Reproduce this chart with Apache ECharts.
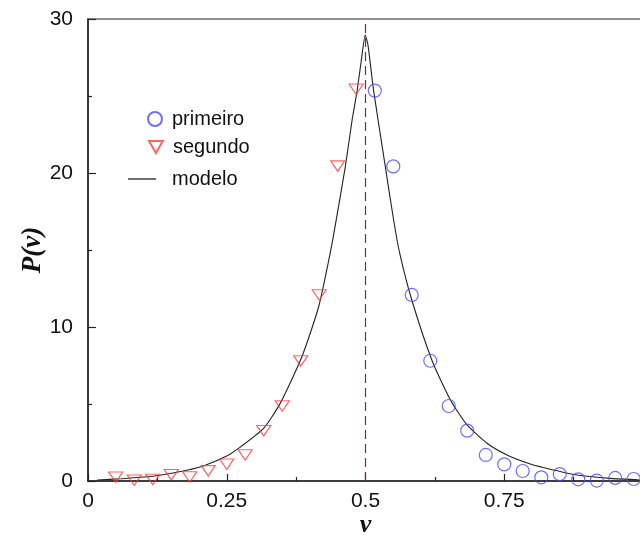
<!DOCTYPE html>
<html>
<head>
<meta charset="utf-8">
<script src="https://cdn.jsdelivr.net/npm/echarts@6/dist/echarts.min.js"></script>
<style>
  html, body { margin: 0; padding: 0; background: #fff; }
  #chart { width: 640px; height: 537px; }
</style>
</head>
<body>
<div id="chart"></div>
<script>
// ---- data ----
const primeiroV = [0.5167, 0.55, 0.5833, 0.6167, 0.65, 0.6833, 0.7167, 0.75, 0.7833, 0.8167, 0.85, 0.8833, 0.9167, 0.95, 0.9833];
const primeiroP = [25.35, 20.43, 12.08, 7.81, 4.87, 3.27, 1.69, 1.08, 0.65, 0.24, 0.45, 0.11, 0.03, 0.2, 0.13];

const segundoV = [0.05, 0.0833, 0.1167, 0.15, 0.1833, 0.2167, 0.25, 0.2833, 0.3167, 0.35, 0.3833, 0.4167, 0.45, 0.4833];
const segundoP = [0.25, 0.05, 0.1, 0.41, 0.26, 0.66, 1.09, 1.69, 3.27, 4.87, 7.8, 12.08, 20.45, 25.44];

const modeloV = [0.0167, 0.06, 0.12, 0.18, 0.21, 0.25, 0.2742, 0.3163, 0.3463, 0.3854, 0.4155, 0.4353, 0.4455, 0.4636, 0.4757, 0.4847, 0.4924, 0.4996,
                 0.5045, 0.5146, 0.5357, 0.5507, 0.5616, 0.583, 0.62, 0.653, 0.683, 0.719, 0.755, 0.797, 0.82, 0.881, 0.9416, 1.0];
const modeloP = [0.06, 0.15, 0.32, 0.71, 1.0, 1.62, 2.2, 3.42, 5.04, 8.07, 11.3, 14.6, 16.6, 20.4, 23.4, 25.3, 27.3, 28.96,
                 28.3, 25.35, 20.41, 16.95, 14.79, 11.8, 7.81, 5.26, 3.64, 2.45, 1.69, 1.1, 0.88, 0.39, 0.17, 0.06];

const dividerV = 0.5;

const xTickValues = [0, 0.25, 0.5, 0.75];
const xTickLabels = ['0', '0.25', '0.5', '0.75'];
const yTickValues = [0, 10, 20, 30];
const yTickLabels = ['0', '10', '20', '30'];

const seriesNames = ['primeiro', 'segundo', 'modelo'];
const xName = 'v';
const yName = 'P(v)';

// ---- build ----
const zip = (a, b) => a.map((v, i) => [v, b[i]]);
const tickLabel = (vals, labs) => (v) => {
  const i = vals.findIndex(t => Math.abs(t - v) < 1e-9);
  return i >= 0 ? labs[i] : '';
};

const axisColor = '#222';
const sansFont = 'Liberation Sans, Arial, sans-serif';
const serifFont = 'Liberation Serif, Times New Roman, serif';
const triPath = 'path://M0,0L20,0L10,17.32Z';

const chart = echarts.init(document.getElementById('chart'), null, { renderer: 'canvas' });

const legendText = { fontFamily: sansFont, fontSize: 20, color: '#111' };

chart.setOption({
  animation: false,
  backgroundColor: '#fff',
  grid: { left: 88, right: -3, top: 19, bottom: 56, show: true, borderColor: axisColor, borderWidth: 1.2,
          containLabel: false, outerBoundsMode: 'none' },
  legend: [
    { data: [seriesNames[0]], left: 147, top: 109, padding: 0, itemWidth: 24, itemHeight: 14, textStyle: legendText, selectedMode: false },
    { data: [seriesNames[1]], left: 148, top: 137, padding: 0, itemWidth: 24, itemHeight: 12, textStyle: legendText, selectedMode: false },
    { data: [{ name: seriesNames[2], icon: 'rect' }], left: 128, top: 169, padding: 0, itemWidth: 28, itemHeight: 1.3,
      itemStyle: { color: '#222' },
      textStyle: Object.assign({}, legendText, { padding: [0, 0, 0, 11] }), selectedMode: false }
  ],
  xAxis: {
    type: 'value', min: 0, max: 1, interval: 0.25,
    name: xName, nameLocation: 'middle', nameGap: 31, nameMoveOverlap: false,
    nameTextStyle: { fontFamily: serifFont, fontStyle: 'italic', fontWeight: 'bold', fontSize: 26, color: '#111' },
    axisLine: { show: true, lineStyle: { color: axisColor, width: 1.5 } },
    axisTick: { show: true, inside: true, length: 7, lineStyle: { color: axisColor, width: 1.2 } },
    minorTick: { show: true, splitNumber: 2, length: 4, lineStyle: { color: axisColor, width: 1.2 } },
    axisLabel: { margin: 10, fontFamily: sansFont, fontSize: 21, color: '#111', formatter: tickLabel(xTickValues, xTickLabels) },
    splitLine: { show: false }
  },
  yAxis: {
    type: 'value', min: 0, max: 30, interval: 10,
    name: yName, nameLocation: 'middle', nameGap: 41, nameRotate: 90, nameMoveOverlap: false,
    nameTextStyle: { fontFamily: serifFont, fontStyle: 'italic', fontWeight: 'bold', fontSize: 27, color: '#111' },
    axisLine: { show: true, lineStyle: { color: axisColor, width: 1.5 } },
    axisTick: { show: true, inside: true, length: 8, lineStyle: { color: axisColor, width: 1.2 } },
    minorTick: { show: true, splitNumber: 2, length: 4, lineStyle: { color: axisColor, width: 1.2 } },
    axisLabel: { margin: 15, fontFamily: sansFont, fontSize: 21, color: '#111', formatter: tickLabel(yTickValues, yTickLabels) },
    splitLine: { show: false }
  },
  series: [
    {
      name: seriesNames[0], type: 'scatter', data: zip(primeiroV, primeiroP),
      symbol: 'circle', symbolSize: 13,
      itemStyle: { color: 'rgba(255,255,255,0)', borderColor: '#4a4aff', borderWidth: 1.2 },
      z: 3
    },
    {
      name: seriesNames[1], type: 'scatter', data: zip(segundoV, segundoP),
      symbol: triPath, symbolSize: [14, 12], symbolKeepAspect: true,
      itemStyle: { color: 'rgba(255,255,255,0)', borderColor: '#ff3c3c', borderWidth: 1.2 },
      z: 3
    },
    {
      name: seriesNames[2], type: 'line', data: zip(modeloV, modeloP),
      symbol: 'none', showSymbol: false, smooth: 0.2,
      lineStyle: { color: '#222', width: 1.1 },
      itemStyle: { color: '#222' },
      z: 2,
      markLine: {
        silent: true, symbol: 'none', label: { show: false },
        lineStyle: { color: '#6d2b57', width: 1.2, type: [9, 5] },
        data: [{ xAxis: dividerV }]
      }
    }
  ]
});
</script>
</body>
</html>
